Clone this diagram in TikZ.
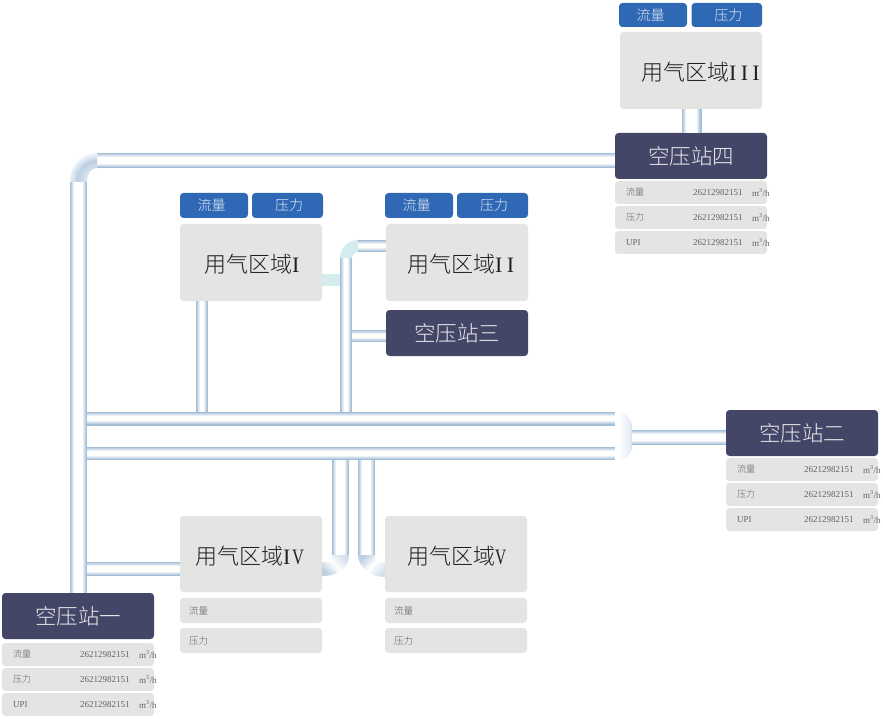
\documentclass[tikz,border=0pt]{standalone}
\usepackage{fontspec}
\usepackage{graphicx}
\setmainfont{Liberation Serif}
\newfontfamily\cjk{Noto Sans CJK SC}[UprightFont=* Light]
\usetikzlibrary{calc}
\definecolor{boxgrey}{HTML}{E4E4E2}
\definecolor{stationblue}{HTML}{444667}
\definecolor{chipblue}{HTML}{2F68B4}
\definecolor{teal}{HTML}{D5ECEE}
\definecolor{pa}{HTML}{A3BFD8}
\definecolor{pb}{HTML}{BCD0E2}
\definecolor{pc}{HTML}{D4E0EC}
\definecolor{pd}{HTML}{E9EFF6}
\pgfdeclareradialshading{elbowshade}{\pgfpoint{0bp}{0bp}}{color(0bp)=(white); color(18bp)=(pb); color(27bp)=(white); color(34bp)=(pd); color(50bp)=(pa)}
\pgfdeclarehorizontalshading{capshade}{100bp}{color(0bp)=(white); color(35bp)=(white); color(65bp)=(pd); color(85bp)=(pb); color(100bp)=(pa)}
\tikzset{
  x=1pt,y=-1pt,
  base/.style={rectangle,rounded corners=3.5pt,inner sep=0pt,outer sep=0pt},
  areabox/.style={base,fill=boxgrey},
  rowbox/.style={base,fill=boxgrey},
  stationbox/.style={base,fill=stationblue,text=white!92!black,font=\cjk\fontsize{21.5}{24}\selectfont},
  chipbox/.style={base,fill=chipblue},
  chiptext/.style={inner sep=0pt,text=white!85!chipblue,font=\cjk\fontsize{14}{16}\selectfont},
  arealabel/.style={anchor=west,inner sep=0pt,text=black!88,font=\fontsize{22}{24}\selectfont},
  rowtext/.style={anchor=west,inner sep=0pt,text=black!62,font=\fontsize{9}{11}\selectfont},
  rowcjk/.style={rowtext,font=\cjk\fontsize{9.5}{11}\selectfont},
  tealpipe/.style={draw=teal,line cap=butt}
}
\newcommand\bx[6]{%
  \pgfmathsetmacro\bw{#5-#3}\pgfmathsetmacro\bh{#6-#4}%
  \node[#1,minimum width=\bw pt,minimum height=\bh pt] (#2) at ({(#3+#5)/2},{(#4+#6)/2})}
\newcommand\pipe[2]{%
  \foreach \d/\c in {0/pa,2.4/pb,4.4/pc,6.4/pd,8.4/white}{%
    \draw[line width={(#1-\d)*1pt},color=\c] #2;}}
\newcommand\datarow[4]{%
  \bx{rowbox}{#1}{#2}{#3}{#2+152}{#3+23}{};
  \node[rowtext] (#1-n) at ([xshift=78pt]#1.west) {26212982151};
  \node[rowtext] (#1-m) at ([xshift=137pt]#1.west) {m\textsuperscript{3}/h};
  \node[rowtext] (#1-k) at ([xshift=11pt]#1.west) {#4};}
\newcommand\chips[7]{% prefix, x1,x2,x3,x4,y1,y2
  \bx{chipbox}{#1a}{#2}{#6}{#3}{#7}{};
  \node[chiptext] (#1at) at ([xshift=-2.5pt]#1a.center) {流量};
  \bx{chipbox}{#1b}{#4}{#6}{#5}{#7}{};
  \node[chiptext] (#1bt) at ([xshift=1.5pt]#1b.center) {压力};}
\begin{document}
\begin{tikzpicture}
\useasboundingbox (0,0) rectangle (883,719);
\fill[white] (0,0) rectangle (883,719);

% --- boxes
\chips{c3}{619}{687}{691.5}{762}{3}{27}
\bx{areabox}{a3}{620}{32}{762}{109}{};
\node[arealabel] (a3t) at ([xshift=21pt,yshift=-1.5pt]a3.west) {{\cjk 用气区域}I\kern4.3pt I\kern4.3pt I};
\bx{stationbox}{s4}{615}{133}{767}{179}{空压站四};
\datarow{r4a}{615}{181}{{\cjk 流量}}
\datarow{r4b}{615}{206}{{\cjk 压力}}
\datarow{r4c}{615}{231}{UPI}

\chips{c1}{180}{248}{252}{323}{193}{218}
\bx{areabox}{a1}{180}{224}{322}{301}{};
\node[arealabel] (a1t) at ([xshift=24pt,yshift=-1.5pt]a1.west) {{\cjk 用气区域}I};

\chips{c2}{385}{453}{457}{528}{193}{218}
\bx{areabox}{a2}{386}{224}{528}{301}{};
\node[arealabel] (a2t) at ([xshift=21pt,yshift=-1.5pt]a2.west) {{\cjk 用气区域}I\kern4.3pt I};
\bx{stationbox}{s3}{386}{310}{528}{356}{空压站三};

\bx{stationbox}{s2}{726}{410}{878}{456}{空压站二};
\datarow{r2a}{726}{458}{{\cjk 流量}}
\datarow{r2b}{726}{483}{{\cjk 压力}}
\datarow{r2c}{726}{508}{UPI}

\bx{areabox}{a4}{180}{516}{322}{592}{};
\node[arealabel] (a4t) at ([xshift=15pt,yshift=-2pt]a4.west) {{\cjk 用气区域}I\kern1.5pt\scalebox{.75}[1]{V}};
\bx{rowbox}{a4r1}{180}{598}{322}{623}{};
\node[rowcjk] (a4r1t) at ([xshift=9pt]a4r1.west) {流量};
\bx{rowbox}{a4r2}{180}{628}{322}{653}{};
\node[rowcjk] (a4r2t) at ([xshift=9pt]a4r2.west) {压力};

\bx{areabox}{a5}{385}{516}{527}{592}{};
\node[arealabel] (a5t) at ([xshift=22pt,yshift=-2pt]a5.west) {{\cjk 用气区域}\scalebox{.7}[1]{V}};
\bx{rowbox}{a5r1}{385}{598}{527}{623}{};
\node[rowcjk] (a5r1t) at ([xshift=9pt]a5r1.west) {流量};
\bx{rowbox}{a5r2}{385}{628}{527}{653}{};
\node[rowcjk] (a5r2t) at ([xshift=9pt]a5r2.west) {压力};

\bx{stationbox}{s1}{2}{593}{154}{639}{空压站一};
\datarow{r1a}{2}{643}{{\cjk 流量}}
\datarow{r1b}{2}{668}{{\cjk 压力}}
\datarow{r1c}{2}{693}{UPI}

% --- junction coordinates
\coordinate (mainTop) at (78.5,182);
\coordinate (topRun) at (97,160.5);
\coordinate (rail1L) at (87,418.75);
\coordinate (rail1R) at (615,418.75);
\coordinate (rail2L) at (87,453.5);
\coordinate (rail2R) at (615,453.5);
\coordinate (capOut) at (632,437.5);
\coordinate (p1down) at (202,412);
\coordinate (riserB) at (346,412);
\coordinate (riserT) at (346,258);
\coordinate (a2in) at (358,246);
\coordinate (s3in) at (352,336);
\coordinate (tealL) at (340,280);
\coordinate (a4in) at (87,569);
\coordinate (d1T) at (340.5,460);
\coordinate (d1B) at (340.5,555);
\coordinate (d2T) at (366.5,460);
\coordinate (d2B) at (366.5,555);
\coordinate (p3) at (691.5,120);

% --- pipes
\pipe{17}{(s1.north -| mainTop) -- (mainTop)}
\pipe{15}{(topRun) -- (s4.west |- topRun)}
\pipe{20}{(a3.south -| p3) -- (s4.north -| p3)}
\pipe{13.5}{(rail1L) -- (rail1R)}
\pipe{13}{(rail2L) -- (rail2R)}
\pipe{15}{(capOut) -- (s2.west |- capOut)}
\pipe{12}{(a1.south -| p1down) -- (p1down)}
\pipe{12}{(riserB) -- (riserT)}
\pipe{12}{(a2in) -- (a2.west |- a2in)}
\pipe{12}{(s3in) -- (s3.west |- s3in)}
\pipe{14}{(a4in) -- (a4.west |- a4in)}
\pipe{17}{(d1T) -- (d1B)}
\pipe{17}{(d2T) -- (d2B)}

% --- top-left elbow
\begin{scope}
\clip (70,182) .. controls (70,166) and (81,153) .. (97,153) -- (97,168) .. controls (91,168) and (87,174) .. (87,182) -- cycle;
\shade[shading=elbowshade] (97,181) circle[radius=28pt];
\end{scope}

% --- cap joining the two rails
\shade[shading=capshade] (615,412) -- (618,412) .. controls (626,412) and (632,420) .. (632,428) -- (632,446) .. controls (632,454) and (626,460) .. (618,460) -- (615,460) -- cycle;

% --- teal joints
\fill[teal] (340,258) .. controls (340,248) and (348,240) .. (358,240) -- (358,252) .. controls (355,252) and (352,255) .. (352,258) -- cycle;
\draw[tealpipe,line width=12pt] (a1.east |- tealL) -- (tealL);

% --- lower elbows
\shade[shading=axis,top color=pc,bottom color=pb,middle color=white,shading angle=-45]
  (322,562) -- (332,562) -- (332,555) -- (349,555) .. controls (349,566) and (340,576) .. (322,576) -- cycle;
\shade[shading=axis,top color=pb,bottom color=pc,middle color=white,shading angle=45]
  (358,555) -- (375,555) -- (375,562) -- (385,562) -- (385,577) .. controls (370,577) and (358,566) .. (358,555) -- cycle;
\end{tikzpicture}
\end{document}
